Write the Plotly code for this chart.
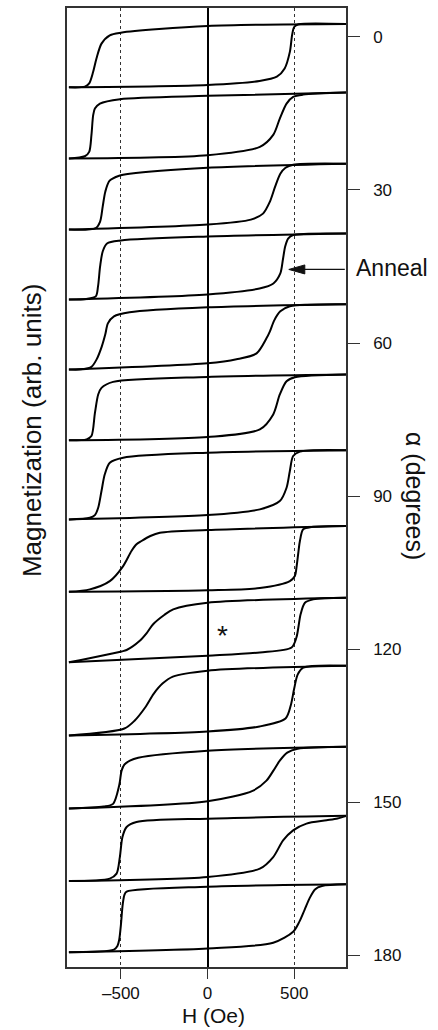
import plotly.graph_objects as go

# ---------------- data ----------------
alpha_deg = [0, 15, 30, 45, 60, 75, 90, 105, 120, 135, 150, 165, 180]
# vertical stacking offset of each loop (arb. units, 1 unit = saturation)
loop_offset = [0.0, 2.12, 4.28, 6.40, 8.54, 10.68, 13.03, 15.28, 17.44, 19.58, 21.92, 24.07, 26.19]
loop_amp = [0.96, 1.0, 1.0, 1.0, 0.99, 1.0, 1.05, 1.0, 0.98, 1.06, 0.94, 0.99, 1.03]

# descending branches (H from +800 to -800), normalised magnetisation
dn_H_000 = [800, 0, -500, -564, -612, -641, -660, -683, -708, -800]
dn_M_000 = [1.0, 0.939, 0.728, 0.646, 0.382, -0.09, -0.508, -0.876, -0.98, -1.0]
dn_H_015 = [800, 0, -505, -621, -650, -660, -670, -683, -708, -800]
dn_M_015 = [1.0, 0.90, 0.80, 0.666, 0.514, 0.313, -0.295, -0.80, -0.933, -1.0]
dn_H_030 = [800, 0, -450, -510, -565, -590, -605, -620, -645, -800]
dn_M_030 = [1.0, 0.879, 0.697, 0.636, 0.485, 0.152, -0.303, -0.758, -0.955, -1.0]
dn_H_045 = [800, 0, -500, -580, -605, -620, -632, -645, -700, -800]
dn_M_045 = [1.0, 0.909, 0.788, 0.697, 0.455, 0.0, -0.606, -0.909, -0.985, -1.0]
dn_H_060 = [800, 0, -450, -540, -575, -590, -610, -640, -670, -720, -800]
dn_M_060 = [1.0, 0.908, 0.755, 0.632, 0.417, 0.08, -0.288, -0.687, -0.917, -0.994, -1.0]
dn_H_075 = [800, 0, -545, -612, -631, -650, -670, -698, -800]
dn_M_075 = [1.0, 0.927, 0.776, 0.594, 0.394, -0.173, -0.87, -0.97, -1.0]
dn_H_090 = [800, 0, -487, -564, -593, -612, -631, -650, -679, -800]
dn_M_090 = [1.0, 0.930, 0.786, 0.641, 0.304, -0.18, -0.664, -0.875, -0.954, -1.0]
dn_H_105 = [800, 0, -275, -330, -381, -410, -439, -487, -564, -679, -800]
dn_M_105 = [1.0, 0.878, 0.796, 0.696, 0.544, 0.444, 0.24, -0.216, -0.672, -0.924, -1.0]
dn_H_120 = [800, 0, -198, -250, -314, -350, -391, -467, -496, -800]
dn_M_120 = [1.0, 0.846, 0.643, 0.468, 0.182, -0.086, -0.332, -0.618, -0.662, -1.0]
dn_H_135 = [800, 0, -200, -260, -310, -360, -420, -480, -800]
dn_M_135 = [1.0, 0.857, 0.686, 0.486, 0.2, -0.2, -0.571, -0.8, -1.0]
dn_H_150 = [800, 0, -400, -448, -480, -496, -510, -545, -600, -800]
dn_M_150 = [1.0, 0.871, 0.645, 0.548, 0.419, 0.226, -0.258, -0.848, -0.935, -1.0]
dn_H_165 = [800, 0, -410, -467, -491, -506, -525, -564, -800]
dn_M_165 = [1.0, 0.914, 0.81, 0.656, 0.35, -0.264, -0.773, -0.926, -1.0]
dn_H_180 = [800, 0, -467, -480, -490, -500, -510, -520, -540, -800]
dn_M_180 = [1.0, 0.929, 0.782, 0.684, 0.389, -0.2, -0.643, -0.82, -0.923, -1.0]

# ascending branches (H from -800 to +800)
up_H_000 = [-800, 0, 300, 400, 445, 475, 488, 500, 525, 800]
up_M_000 = [-1.0, -0.926, -0.80, -0.665, -0.404, 0.121, 0.656, 0.907, 0.992, 1.0]
up_H_015 = [-800, 0, 302, 379, 417, 456, 494, 552, 800]
up_M_015 = [-1.0, -0.903, -0.65, -0.286, 0.21, 0.666, 0.869, 0.939, 1.0]
up_H_030 = [-800, 0, 250, 320, 360, 390, 420, 450, 494, 800]
up_M_030 = [-1.0, -0.848, -0.697, -0.515, -0.152, 0.303, 0.697, 0.879, 0.97, 1.0]
up_H_045 = [-800, 0, 300, 380, 420, 435, 448, 465, 494, 800]
up_M_045 = [-1.0, -0.848, -0.667, -0.515, -0.212, 0.212, 0.606, 0.848, 0.955, 1.0]
up_H_060 = [-800, 0, 167, 283, 340, 360, 385, 420, 475, 800]
up_M_060 = [-1.0, -0.81, -0.687, -0.503, -0.043, 0.172, 0.509, 0.785, 0.939, 1.0]
up_H_075 = [-800, 0, 302, 379, 417, 456, 504, 800]
up_M_075 = [-1.0, -0.90, -0.667, -0.212, 0.394, 0.797, 0.918, 1.0]
up_H_090 = [-800, 0, 302, 417, 456, 475, 494, 533, 800]
up_M_090 = [-1.0, -0.875, -0.71, -0.47, -0.084, 0.40, 0.835, 0.96, 1.0]
up_H_105 = [-800, 0, 302, 475, 504, 513, 525, 533, 552, 600, 800]
up_M_105 = [-1.0, -0.954, -0.884, -0.672, -0.52, -0.267, 0.24, 0.544, 0.90, 0.97, 1.0]
up_H_120 = [-800, 0, 302, 485, 513, 537, 562, 610, 800]
up_M_120 = [-1.0, -0.794, -0.692, -0.538, -0.231, 0.489, 0.846, 0.951, 1.0]
up_H_135 = [-800, 0, 300, 450, 480, 500, 520, 552, 800]
up_M_135 = [-1.0, -0.886, -0.743, -0.514, -0.143, 0.343, 0.743, 0.943, 1.0]
up_H_150 = [-800, 0, 263, 340, 380, 417, 460, 520, 800]
up_M_150 = [-1.0, -0.765, -0.419, -0.097, 0.226, 0.548, 0.806, 0.935, 1.0]
up_H_165 = [-800, 0, 302, 379, 436, 494, 571, 687, 750, 800]
up_M_165 = [-1.0, -0.877, -0.62, -0.264, 0.248, 0.555, 0.761, 0.862, 0.92, 1.0]
up_H_180 = [-800, 0, 379, 494, 530, 560, 590, 620, 660, 800]
up_M_180 = [-1.0, -0.888, -0.723, -0.398, -0.10, 0.25, 0.60, 0.85, 0.95, 1.0]

x_tickvals = [-500, 0, 500]
x_ticktext = ["\u2013500", "0", "500"]
alpha_tickvals = [0, 30, 60, 90, 120, 150, 180]

dn_H = [dn_H_000, dn_H_015, dn_H_030, dn_H_045, dn_H_060, dn_H_075, dn_H_090,
        dn_H_105, dn_H_120, dn_H_135, dn_H_150, dn_H_165, dn_H_180]
dn_M = [dn_M_000, dn_M_015, dn_M_030, dn_M_045, dn_M_060, dn_M_075, dn_M_090,
        dn_M_105, dn_M_120, dn_M_135, dn_M_150, dn_M_165, dn_M_180]
up_H = [up_H_000, up_H_015, up_H_030, up_H_045, up_H_060, up_H_075, up_H_090,
        up_H_105, up_H_120, up_H_135, up_H_150, up_H_165, up_H_180]
up_M = [up_M_000, up_M_015, up_M_030, up_M_045, up_M_060, up_M_075, up_M_090,
        up_M_105, up_M_120, up_M_135, up_M_150, up_M_165, up_M_180]

# ---------------- figure ----------------
FONT = "Liberation Sans, Arial, sans-serif"
fig = go.Figure()

for i, a in enumerate(alpha_deg):
    for Hs, Ms in ((up_H[i], up_M[i]), (dn_H[i], dn_M[i])):
        ys = [m * loop_amp[i] - loop_offset[i] for m in Ms]
        fig.add_trace(go.Scatter(
            x=Hs, y=ys, mode="lines",
            line=dict(color="black", width=2, shape="spline", smoothing=0.8),
            hoverinfo="skip", showlegend=False, name=f"{a}\u00b0"))

# invisible trace to activate right axis
fig.add_trace(go.Scatter(x=[0], y=[90], yaxis="y2", mode="markers",
                         marker=dict(opacity=0), showlegend=False, hoverinfo="skip"))

fig.update_layout(
    width=438, height=1030,
    margin=dict(l=67, r=92, t=6, b=63),
    paper_bgcolor="white", plot_bgcolor="white",
    font=dict(family=FONT, color="#111"),
    xaxis=dict(
        range=[-811, 799], tickmode="array", tickvals=x_tickvals, ticktext=x_ticktext,
        ticks="outside", ticklen=10, tickwidth=1.2, tickcolor="#333",
        tickfont=dict(size=17, family=FONT, color="#111"), ticklabelstandoff=0,
        showgrid=True, gridcolor="#333", griddash="dot", gridwidth=1,
        zeroline=True, zerolinecolor="black", zerolinewidth=1.6,
        showline=True, linecolor="#333", linewidth=1.5, mirror=True,
    ),
    yaxis=dict(
        range=[-27.67, 1.448], showticklabels=False, ticks="",
        showgrid=False, zeroline=False,
        showline=True, linecolor="#333", linewidth=1.5, mirror=True,
    ),
    yaxis2=dict(
        overlaying="y", side="right", range=[182.3, -5.67],
        tickmode="array", tickvals=alpha_tickvals,
        ticks="outside", ticklen=12, tickwidth=1.2, tickcolor="#333",
        tickfont=dict(size=17, family=FONT, color="#111"), ticklabelstandoff=10,
        showgrid=False, zeroline=False,
        showline=True, linecolor="#333", linewidth=1.5,
    ),
)

# axis titles
fig.add_annotation(text="Magnetization (arb. units)", xref="paper", yref="paper",
                   x=-0.125, y=0.559, xanchor="center", yanchor="middle",
                   textangle=-90, showarrow=False,
                   font=dict(size=26, family=FONT, color="#111"))
fig.add_annotation(text="\u03b1 (degrees)", xref="paper", yref="paper",
                   x=1.248, y=0.491, xanchor="center", yanchor="middle",
                   textangle=90, showarrow=False,
                   font=dict(size=25, family=FONT, color="#111"))
fig.add_annotation(text="H (Oe)", xref="paper", yref="paper",
                   x=0.524, y=-0.0643, xanchor="center", yanchor="bottom", showarrow=False,
                   font=dict(size=21, family=FONT, color="#111"))

# Anneal label with arrow
fig.add_annotation(text="Anneal", xref="paper", yref="y", x=1.03, y=-6.46,
                   xanchor="left", yanchor="middle", showarrow=False,
                   font=dict(size=23, family=FONT, color="#111"))
fig.add_shape(type="line", xref="x", yref="y", xsizemode="pixel", ysizemode="pixel",
              xanchor=469, yanchor=-6.49, x0=10, x1=56, y0=0, y1=0,
              line=dict(color="#111", width=1.3))
fig.add_shape(type="path", xref="x", yref="y", xsizemode="pixel", ysizemode="pixel",
              xanchor=469, yanchor=-6.49, path="M0,0 L16,4.5 L16,-4.5 Z",
              fillcolor="#111", line=dict(color="#111", width=1))

# asterisk
fig.add_annotation(text="*", xref="x", yref="y", x=86, y=-17.44, yshift=-5,
                   showarrow=False, font=dict(size=28, family=FONT, color="#111"))

fig.write_html("out.html")
